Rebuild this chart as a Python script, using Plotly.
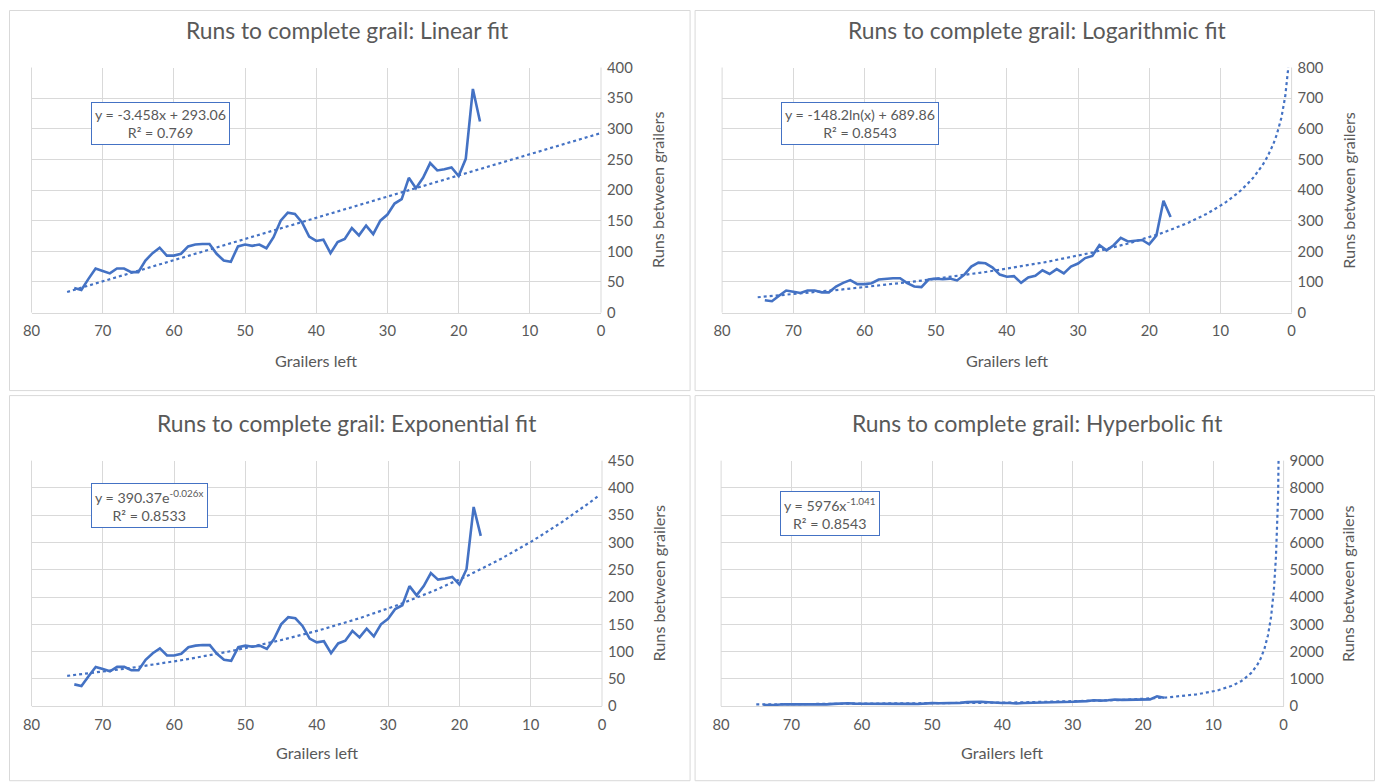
import numpy as np
import plotly.graph_objects as go

# ---- data ----
grailers_left = list(range(74, 16, -1))
runs_between = [40, 37, 55, 72, 68, 64, 72, 72, 66, 66,
                85, 97, 106, 93, 93, 96, 108, 111, 112, 112,
                96, 85, 83, 108, 111, 109, 111, 105, 123, 150,
                163, 161, 147, 124, 117, 119, 97, 115, 120, 138,
                126, 142, 128, 150, 160, 178, 185, 220, 203, 220,
                244, 232, 234, 237, 223, 251, 365, 312]

titles = ["Runs to complete grail: Linear fit",
          "Runs to complete grail: Logarithmic fit",
          "Runs to complete grail: Exponential fit",
          "Runs to complete grail: Hyperbolic fit"]
equations = ["y = -3.458x + 293.06<br>R² = 0.769",
             "y = -148.2ln(x) + 689.86<br>R² = 0.8543",
             "y = 390.37e<sup>-0.026x</sup><br>R² = 0.8533",
             "y = 5976x<sup>-1.041</sup><br>R² = 0.8543"]
y_max = [400, 800, 450, 9000]
y_dtick = [50, 100, 50, 1000]

# trendline coefficients (as reported by the fits)
lin_coef = [-3.458, 293.06]
log_coef = [-148.2, 689.86]
exp_coef = [390.37, -0.026]
pow_coef = [5976, -1.041]

W, H = 1380, 792
OFFX, OFFY = 8.5, 9.5
SX, SY = 0.989, 0.977
BLUE = "#4472C4"
GRAY = "#595959"
GRID = "#d9d9d9"
FONT = "Lato, Open Sans, sans-serif"


def px(p):
    return min(max((p - OFFX) / SX, 0.5), W - 0.5) / W


def py(p):
    return 1 - max((p - OFFY) / SY, 0.5) / H


# trend x values
tx_lin = np.linspace(75, 0, 200)
tx_curve = np.concatenate([np.linspace(75, 5, 200), np.linspace(5, 0.4, 400)])
trend_y = [
    lin_coef[0] * tx_lin + lin_coef[1],
    log_coef[0] * np.log(tx_curve) + log_coef[1],
    exp_coef[0] * np.exp(exp_coef[1] * tx_curve),
    pow_coef[0] * tx_curve ** pow_coef[1],
]
trend_x = [tx_lin, tx_curve, tx_curve, tx_curve]

# pixel layout in target picture coords (x0, x1, ytop, ybottom)
plots = [(31, 600, 67, 312), (721, 1290, 67, 312),
         (31, 601, 460, 705.5), (720, 1282, 460, 705.5)]
panels = [(4, 3, 689, 390), (694, 3, 1377, 390),
          (4, 395, 689, 780), (694, 395, 1377, 780)]
title_pos = [(346, 29), (1036, 29), (346, 422), (1036, 422)]
ytitle_x = [656, 1346, 657, 1346]
xtitle_y = [360, 360, 752, 752]
eq_pos = [(90, 101), (780, 101), (90, 482), (779, 490)]

fig = go.Figure()
layout = dict(
    width=W, height=H, margin=dict(l=0, r=0, t=0, b=0),
    paper_bgcolor="white", plot_bgcolor="white", showlegend=False,
    font=dict(family=FONT, color=GRAY),
)
shapes, annotations = [], []

for i in range(4):
    xa = "x" if i == 0 else f"x{i+1}"
    ya = "y" if i == 0 else f"y{i+1}"
    x0, x1, yt, yb = plots[i]
    fig.add_trace(go.Scatter(x=grailers_left, y=runs_between, mode="lines",
                             line=dict(color=BLUE, width=2.6),
                             xaxis=xa, yaxis=ya, hoverinfo="skip"))
    fig.add_trace(go.Scatter(x=trend_x[i], y=trend_y[i], mode="lines",
                             line=dict(color=BLUE, width=2.2, dash="dot"),
                             xaxis=xa, yaxis=ya, hoverinfo="skip"))
    xkey = "xaxis" if i == 0 else f"xaxis{i+1}"
    ykey = "yaxis" if i == 0 else f"yaxis{i+1}"
    layout[xkey] = dict(domain=[px(x0), px(x1)], range=[80, 0], dtick=10,
                        showgrid=True, gridcolor=GRID, gridwidth=1,
                        showline=True, linecolor=GRID, zeroline=False,
                        ticks="", ticklabelstandoff=5,
                        tickfont=dict(size=14.8, color=GRAY),
                        anchor=ya, fixedrange=True)
    layout[ykey] = dict(domain=[py(yb), py(yt)], range=[0, y_max[i]],
                        dtick=y_dtick[i], side="right", showgrid=True,
                        gridcolor=GRID, gridwidth=1, zeroline=False,
                        showline=False, ticks="", ticklabelstandoff=5,
                        tickfont=dict(size=14.8, color=GRAY),
                        anchor=xa, fixedrange=True)
    for xe in (x0, x1):
        shapes.append(dict(type="line", xref="paper", yref="paper",
                           x0=px(xe), x1=px(xe), y0=py(yb), y1=py(yt),
                           line=dict(color=GRID, width=1), layer="below"))
    px0, py0, px1, py1 = panels[i]
    shapes.append(dict(type="rect", xref="paper", yref="paper",
                       x0=px(px0), x1=px(px1), y0=py(py1), y1=py(py0),
                       line=dict(color=GRID, width=1)))
    tx, ty = title_pos[i]
    annotations.append(dict(text=titles[i], x=px(tx), y=py(ty),
                            xref="paper", yref="paper", showarrow=False,
                            xanchor="center", yanchor="middle",
                            font=dict(size=22.8, color=GRAY, family=FONT)))
    annotations.append(dict(text="Grailers left", x=px((x0 + x1) / 2),
                            y=py(xtitle_y[i]), xref="paper", yref="paper",
                            showarrow=False, xanchor="center", yanchor="middle",
                            font=dict(size=16.2, color=GRAY, family=FONT)))
    annotations.append(dict(text="Runs between grailers", x=px(ytitle_x[i]),
                            y=py((yt + yb) / 2), xref="paper", yref="paper",
                            showarrow=False, textangle=-90,
                            xanchor="center", yanchor="middle",
                            font=dict(size=16.2, color=GRAY, family=FONT)))
    ex, ey = eq_pos[i]
    annotations.append(dict(text=equations[i], x=px(ex), y=py(ey),
                            xref="paper", yref="paper", showarrow=False,
                            xanchor="left", yanchor="top", align="center",
                            bgcolor="white", bordercolor=BLUE, borderwidth=1,
                            borderpad=3,
                            font=dict(size=14.2, color=GRAY, family=FONT)))

layout["shapes"] = shapes
layout["annotations"] = annotations
fig.update_layout(**layout)
fig.write_html(
    "out.html",
    config={"displayModeBar": False},
    post_script="document.body.style.margin='0';document.body.style.padding='0';"
                "document.body.style.overflow='hidden';",
)
